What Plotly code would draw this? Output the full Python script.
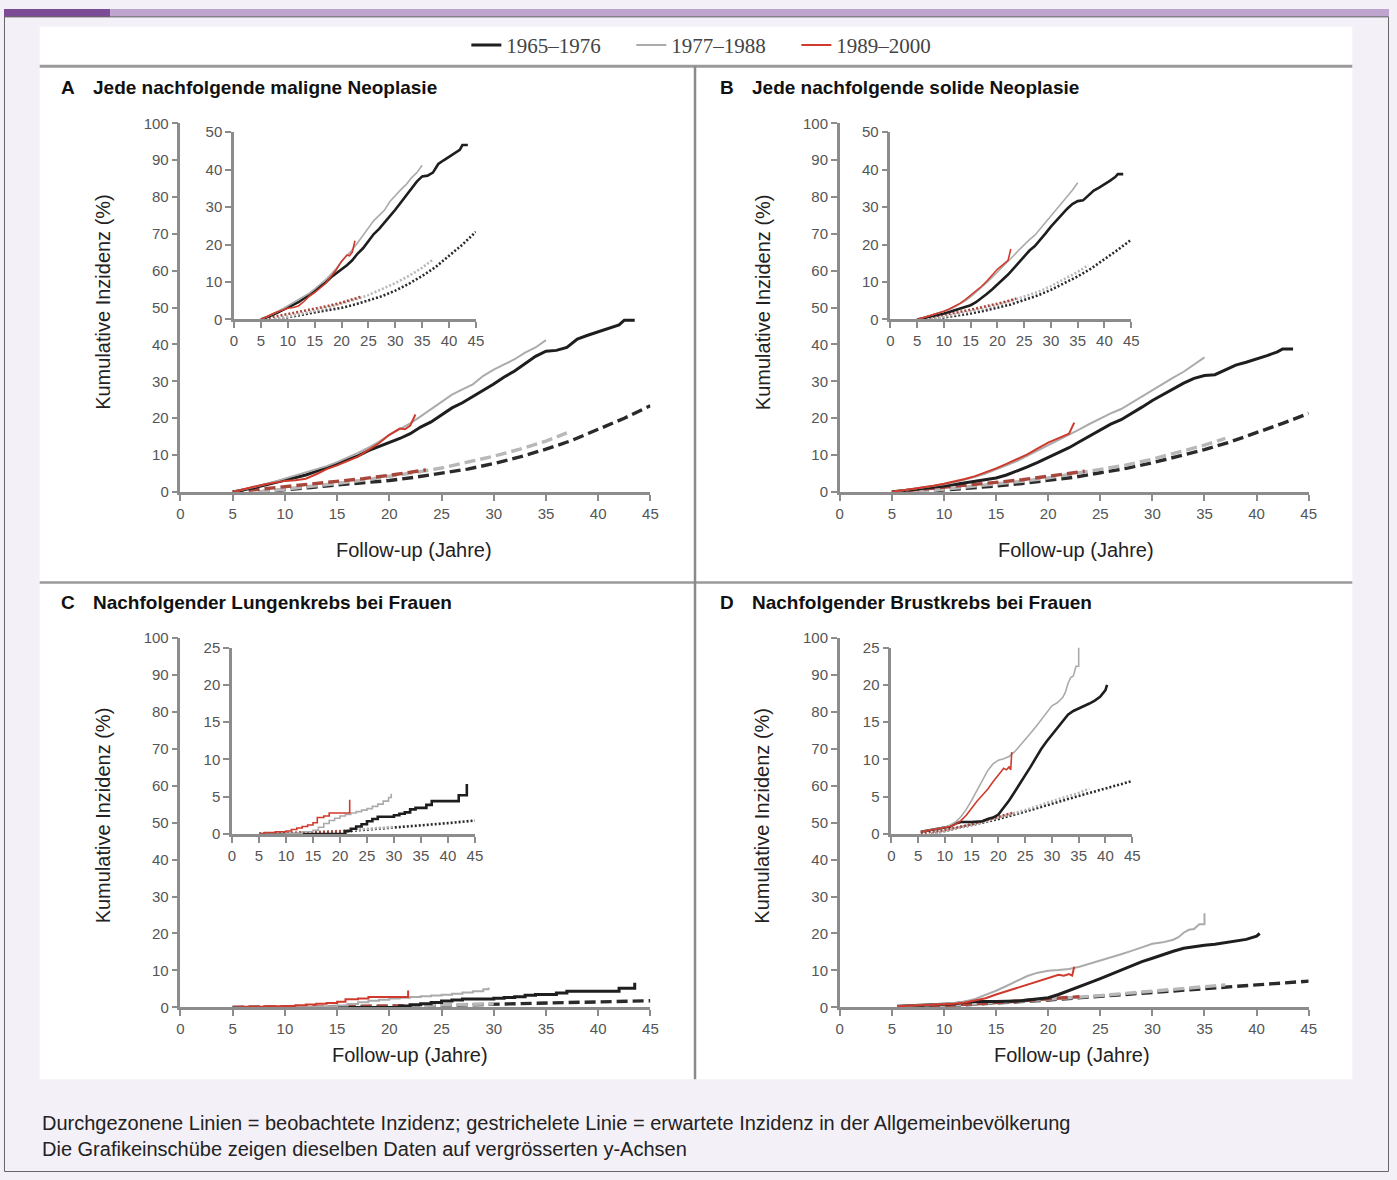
import plotly.graph_objects as go

W, H = 1397, 1180

# ---------------- data ----------------
SERIES = ["1965–1976", "1977–1988", "1989–2000"]
X_TICKS = [0, 5, 10, 15, 20, 25, 30, 35, 40, 45]

# Panel A – any subsequent malignant neoplasm
A_obs65_x = [5, 6, 7, 8, 9, 10, 11, 12, 13, 14, 15, 16, 17, 18, 19, 20, 21, 22, 23, 24, 25, 26, 27, 28, 29, 30,
             31, 32, 33, 34, 35, 36, 37, 38, 39, 40, 41, 42, 42.5, 43.5]
A_obs65_y = [0, 0.5, 1.1, 1.8, 2.5, 3.1, 3.8, 4.6, 5.6, 6.6, 7.6, 8.6, 9.8, 11.2, 12.3, 13.2, 14.5, 15.8, 17.6, 19.0,
             20.8, 22.8, 24.2, 25.8, 27.6, 29.3, 31.2, 32.8, 34.8, 36.8, 38.2, 38.4, 39.2, 41.5, 42.5, 43.5, 44.5,
             45.3, 46.6, 46.6]
A_obs77_x = [5, 6, 7, 8, 9, 10, 11, 12, 13, 14, 15, 16, 17, 18, 19, 20, 21, 22, 23, 24, 25, 26, 27, 28, 29, 30,
             31, 32, 33, 34, 35]
A_obs77_y = [0, 0.6, 1.3, 2.0, 2.8, 3.6, 4.4, 5.2, 6.1, 7.0, 8.1, 9.3, 10.6, 12.0, 13.6, 15.5, 17.0, 18.6, 20.5,
             22.5, 24.4, 26.4, 27.8, 29.2, 31.5, 33.2, 34.6, 36.0, 37.8, 39.2, 41.2]
A_obs89_x = [5, 6, 7, 8, 9, 10, 11, 12, 13, 14, 15, 16, 17, 18, 19, 20, 21, 21.5, 22, 22.5]
A_obs89_y = [0, 0.8, 1.4, 2.0, 2.5, 3.0, 3.2, 3.6, 4.8, 6.2, 7.2, 8.3, 9.6, 11.4, 13.2, 15.5, 17.2, 17.0, 18.0, 21.0]
A_exp65_x = [7.5, 10, 12.5, 15, 17.5, 20, 22.5, 25, 27.5, 30, 32.5, 35, 37.5, 40, 42.5, 45]
A_exp65_y = [0, 0.5, 1.2, 1.9, 2.5, 3.1, 4.0, 5.0, 6.2, 7.7, 9.5, 11.6, 14.0, 17.0, 20.0, 23.4]
A_exp77_x = [7.5, 10, 12.5, 15, 17.5, 20, 22.5, 25, 27.5, 30, 32.5, 35, 37]
A_exp77_y = [0, 0.7, 1.5, 2.3, 3.2, 4.2, 5.3, 6.5, 8.0, 9.7, 11.6, 13.8, 16.0]
A_exp89_x = [5, 7.5, 10, 12.5, 15, 17.5, 20, 22.5, 23.5]
A_exp89_y = [0, 0.7, 1.4, 2.1, 2.8, 3.6, 4.5, 5.5, 6.0]

# Panel B – any subsequent solid neoplasm
B_obs65_x = [5, 6, 7, 8, 9, 10, 11, 12, 13, 14, 15, 16, 17, 18, 19, 20, 21, 22, 23, 24, 25, 26, 27, 28, 29, 30,
             31, 32, 33, 34, 35, 36, 37, 38, 39, 40, 41, 42, 42.5, 43.5]
B_obs65_y = [0, 0.3, 0.6, 0.9, 1.2, 1.6, 2.0, 2.5, 3.0, 3.3, 3.8, 4.6, 5.6, 6.8, 8.0, 9.3, 10.5, 12.0, 13.6, 15.2,
             16.8, 18.4, 19.6, 21.2, 23.0, 24.8, 26.4, 28.0, 29.5, 30.8, 31.6, 31.8, 33.2, 34.4, 35.2, 36.0, 37.0,
             38.0, 38.8, 38.8]
B_obs77_x = [5, 6, 7, 8, 9, 10, 11, 12, 13, 14, 15, 16, 17, 18, 19, 20, 21, 22, 23, 24, 25, 26, 27, 28, 29, 30,
             31, 32, 33, 34, 35]
B_obs77_y = [0, 0.4, 0.8, 1.2, 1.6, 2.1, 2.6, 3.3, 4.1, 5.0, 6.0, 7.2, 8.4, 9.8, 11.2, 12.6, 14.0, 15.5, 17.0,
             18.5, 20.0, 21.3, 22.5, 24.2, 26.0, 27.8, 29.5, 31.0, 32.6, 34.5, 36.5]
B_obs89_x = [5, 6, 7, 8, 9, 10, 11, 12, 13, 14, 15, 16, 17, 18, 19, 20, 21, 22, 22.5]
B_obs89_y = [0, 0.4, 0.9, 1.3, 1.7, 2.2, 2.8, 3.5, 4.3, 5.3, 6.4, 7.6, 8.8, 10.2, 11.8, 13.4, 14.6, 15.8, 18.8]
B_exp65_x = [7.5, 10, 12.5, 15, 17.5, 20, 22.5, 25, 27.5, 30, 32.5, 35, 37.5, 40, 42.5, 45]
B_exp65_y = [0, 0.5, 1.0, 1.6, 2.3, 3.1, 4.0, 5.2, 6.4, 7.9, 9.6, 11.5, 13.6, 16.0, 18.6, 21.3]
B_exp77_x = [7.5, 10, 12.5, 15, 17.5, 20, 22.5, 25, 27.5, 30, 32.5, 35, 37]
B_exp77_y = [0, 0.7, 1.4, 2.1, 2.9, 3.8, 4.9, 6.0, 7.3, 8.9, 10.7, 12.7, 14.5]
B_exp89_x = [5, 7.5, 10, 12.5, 15, 17.5, 20, 22.5, 23.5]
B_exp89_y = [0, 0.6, 1.2, 1.9, 2.6, 3.3, 4.2, 5.1, 5.6]

# Panel C – subsequent lung cancer in women (step curves)
C_obs65_x = [5, 20.5, 21, 22, 23, 24, 25, 26, 27, 28, 30, 31, 32, 33, 34, 35, 36, 37, 41, 42, 43.2, 43.5]
C_obs65_y = [0, 0, 0.4, 0.7, 1.0, 1.3, 1.7, 2.0, 2.3, 2.3, 2.5, 2.7, 2.9, 3.3, 3.5, 3.5, 3.9, 4.4, 4.4, 5.2, 5.2, 6.7]
C_obs77_x = [5, 10, 13, 15, 16, 17, 18, 19, 20, 21, 22, 23, 24, 25, 26, 27, 28, 29, 29.5]
C_obs77_y = [0, 0.1, 0.3, 0.5, 0.9, 1.4, 1.8, 2.1, 2.4, 2.6, 2.8, 3.0, 3.2, 3.4, 3.7, 4.0, 4.4, 4.9, 5.4]
C_obs89_x = [5, 6, 8, 10, 11, 12, 13, 14, 15, 15.8, 17, 18, 21.8]
C_obs89_y = [0, 0.2, 0.3, 0.4, 0.6, 0.8, 1.0, 1.2, 1.5, 2.2, 2.4, 2.8, 4.6]
C_exp65_x = [5, 10, 15, 20, 25, 30, 35, 40, 45]
C_exp65_y = [0, 0.05, 0.15, 0.3, 0.55, 0.85, 1.15, 1.45, 1.8]
C_exp77_x = [5, 10, 15, 20, 25, 30]
C_exp77_y = [0, 0.05, 0.2, 0.4, 0.65, 0.95]
C_exp89_x = [5, 10, 15, 20, 22]
C_exp89_y = [0, 0.1, 0.2, 0.35, 0.4]

# Panel D – subsequent breast cancer in women
D_obs65_x = [5.5, 7, 9, 10, 11, 12, 13, 15, 17, 18, 19, 20, 21, 22, 23, 24, 25, 26, 27, 28, 29, 30, 31, 32, 33,
             34, 35, 36, 37, 38, 39, 40, 40.3]
D_obs65_y = [0.3, 0.5, 0.7, 0.8, 1.0, 1.4, 1.6, 1.6, 1.7, 2.0, 2.2, 2.6, 3.5, 4.5, 5.6, 6.7, 7.8, 9.0, 10.2, 11.4,
             12.4, 13.3, 14.3, 15.2, 16.0, 16.5, 16.8, 17.1, 17.5, 17.9, 18.4, 19.3, 20.0]
D_obs77_x = [5.5, 7, 9, 10, 11, 12, 13, 14, 15, 16, 17, 18, 19, 20, 21, 22, 23, 24, 25, 26, 27, 28, 29, 30, 31,
             32, 32.5, 33, 33.5, 34, 34.5, 35, 35]
D_obs77_y = [0.3, 0.5, 0.7, 0.9, 1.2, 1.6, 2.3, 3.3, 4.5, 5.8, 7.2, 8.5, 9.4, 9.9, 10.1, 10.4, 11.0, 11.8, 12.6,
             13.5, 14.4, 15.3, 16.2, 17.2, 17.6, 18.3, 19.0, 20.2, 21.0, 21.2, 22.5, 22.5, 25.5]
D_obs89_x = [5.5, 7, 9, 10, 11, 12, 13, 14, 15, 16, 17, 18, 19, 20, 21, 21.5, 22, 22.3, 22.5]
D_obs89_y = [0.3, 0.5, 0.7, 0.8, 1.0, 1.3, 1.8, 2.5, 3.5, 4.4, 5.2, 6.0, 7.0, 7.9, 8.8, 8.6, 9.0, 8.6, 11.0]
D_exp65_x = [7.5, 10, 15, 20, 25, 30, 35, 40, 45]
D_exp65_y = [0, 0.4, 1.1, 2.0, 3.0, 4.1, 5.1, 6.1, 7.1]
D_exp77_x = [7.5, 10, 15, 20, 25, 30, 35, 37]
D_exp77_y = [0, 0.4, 1.2, 2.2, 3.2, 4.4, 5.5, 6.1]
D_exp89_x = [5.5, 10, 15, 20, 23]
D_exp89_y = [0.1, 0.5, 1.3, 2.3, 2.9]

PANEL_DATA = {
    "A": dict(obs=[(A_obs65_x, A_obs65_y), (A_obs77_x, A_obs77_y), (A_obs89_x, A_obs89_y)],
              exp=[(A_exp65_x, A_exp65_y), (A_exp77_x, A_exp77_y), (A_exp89_x, A_exp89_y)]),
    "B": dict(obs=[(B_obs65_x, B_obs65_y), (B_obs77_x, B_obs77_y), (B_obs89_x, B_obs89_y)],
              exp=[(B_exp65_x, B_exp65_y), (B_exp77_x, B_exp77_y), (B_exp89_x, B_exp89_y)]),
    "C": dict(obs=[(C_obs65_x, C_obs65_y), (C_obs77_x, C_obs77_y), (C_obs89_x, C_obs89_y)],
              exp=[(C_exp65_x, C_exp65_y), (C_exp77_x, C_exp77_y), (C_exp89_x, C_exp89_y)]),
    "D": dict(obs=[(D_obs65_x, D_obs65_y), (D_obs77_x, D_obs77_y), (D_obs89_x, D_obs89_y)],
              exp=[(D_exp65_x, D_exp65_y), (D_exp77_x, D_exp77_y), (D_exp89_x, D_exp89_y)]),
}
TITLES = {"A": "Jede nachfolgende maligne Neoplasie",
          "B": "Jede nachfolgende solide Neoplasie",
          "C": "Nachfolgender Lungenkrebs bei Frauen",
          "D": "Nachfolgender Brustkrebs bei Frauen"}

# ---------------- layout geometry (page pixels) ----------------
GEOM = {
    "A": dict(mx=(178, 652), my=(490, 116), ix=(232, 476), iy=(315, 125), imax=50, idt=10, shape="linear",
              title=(55, 88, 80), ylab=(100, 297), xlab=(414, 549)),
    "B": dict(mx=(843, 1316), my=(490, 116), ix=(894, 1137), iy=(315, 125), imax=50, idt=10, shape="linear",
              title=(720, 752, 80), ylab=(765, 297), xlab=(1081, 549)),
    "C": dict(mx=(178, 652), my=(1013, 638), ix=(230, 475), iy=(837, 648), imax=25, idt=5, shape="hv",
              title=(55, 88, 602), ylab=(100, 818), xlab=(410, 1061)),
    "D": dict(mx=(843, 1316), my=(1013, 638), ix=(895, 1138), iy=(837, 648), imax=25, idt=5, shape="linear",
              title=(720, 752, 602), ylab=(765, 818), xlab=(1077, 1061)),
}

OBS_COLORS = ["#1e1e1e", "#ababab", "#cf3a2c"]
OBS_WIDTH = [3.0, 2.0, 2.0]
EXP_COLORS = ["#2a2a2a", "#b8b8b8", "#a8463c"]

TICK_FONT = dict(family="Liberation Sans Narrow, Liberation Sans, Arial", size=15, color="#555555")
TEXT_FONT = "Liberation Sans, Arial, sans-serif"


def fx(p):
    return p / W


def fy(p):
    return 1 - p / H


fig = go.Figure()
layout = {}

axis_common = dict(showline=True, linecolor="#8c8c8c", linewidth=2.5, ticks="outside", ticklen=6,
                   tickwidth=2, tickcolor="#8c8c8c", showgrid=False, zeroline=False,
                   tickfont=TICK_FONT, fixedrange=True)

annotations = []
for i, key in enumerate(["A", "B", "C", "D"]):
    g = GEOM[key]
    d = PANEL_DATA[key]
    for j, inset in enumerate([False, True]):
        n = 2 * i + j + 1
        xa = "xaxis" if n == 1 else f"xaxis{n}"
        ya = "yaxis" if n == 1 else f"yaxis{n}"
        xr = "x" if n == 1 else f"x{n}"
        yr = "y" if n == 1 else f"y{n}"
        px_x = g["ix"] if inset else g["mx"]
        px_y = g["iy"] if inset else g["my"]
        ymax = g["imax"] if inset else 100
        ydt = g["idt"] if inset else 10
        layout[xa] = dict(axis_common, domain=[fx(px_x[0]), fx(px_x[1])], range=[0, 45],
                          tickvals=X_TICKS, anchor=yr)
        layout[ya] = dict(axis_common, domain=[fy(px_y[0]), fy(px_y[1])], range=[0, ymax],
                          dtick=ydt, tick0=0, anchor=xr)
        # expected incidence (dashed in main, dotted in inset)
        for k in [0, 1, 2]:
            ex, ey = d["exp"][k]
            fig.add_trace(go.Scatter(
                x=ex, y=ey, xaxis=xr, yaxis=yr, mode="lines", showlegend=False, hoverinfo="skip",
                line=dict(color=EXP_COLORS[k], width=2.6 if inset else 3.4,
                          dash="2px,2px" if inset else "11px,5px")))
        # observed incidence
        for k in [0, 1, 2]:
            ox, oy = d["obs"][k]
            fig.add_trace(go.Scatter(
                x=ox, y=oy, xaxis=xr, yaxis=yr, mode="lines", name=SERIES[k],
                showlegend=(n == 1), legendrank=k + 1,
                line=dict(color=OBS_COLORS[k], width=OBS_WIDTH[k] - (0.4 if inset else 0),
                          shape=g["shape"])))

    lx, tx, ty = g["title"]
    annotations.append(dict(text=f"<b>{key}</b>", x=fx(lx), y=fy(ty), xref="paper", yref="paper",
                            xanchor="left", yanchor="middle", showarrow=False,
                            font=dict(family=TEXT_FONT, size=19, color="#111111")))
    annotations.append(dict(text=f"<b>{TITLES[key]}</b>", x=fx(tx), y=fy(ty), xref="paper", yref="paper",
                            xanchor="left", yanchor="middle", showarrow=False,
                            font=dict(family=TEXT_FONT, size=19, color="#111111")))
    annotations.append(dict(text="Kumulative Inzidenz (%)", x=fx(g["ylab"][0]), y=fy(g["ylab"][1]),
                            xref="paper", yref="paper", textangle=-90, showarrow=False,
                            xanchor="center", yanchor="middle",
                            font=dict(family=TEXT_FONT, size=20, color="#222222")))
    annotations.append(dict(text="Follow-up (Jahre)", x=fx(g["xlab"][0]), y=fy(g["xlab"][1]),
                            xref="paper", yref="paper", showarrow=False,
                            xanchor="center", yanchor="middle",
                            font=dict(family=TEXT_FONT, size=20, color="#222222")))

annotations.append(dict(text="Durchgezonene Linien = beobachtete Inzidenz; gestrichelete Linie = erwartete "
                             "Inzidenz in der Allgemeinbevölkerung",
                        x=fx(36), y=fy(1130), xref="paper", yref="paper", showarrow=False,
                        xanchor="left", yanchor="middle",
                        font=dict(family=TEXT_FONT, size=20, color="#222222")))
annotations.append(dict(text="Die Grafikeinschübe zeigen dieselben Daten auf vergrösserten y-Achsen",
                        x=fx(36), y=fy(1157), xref="paper", yref="paper", showarrow=False,
                        xanchor="left", yanchor="middle",
                        font=dict(family=TEXT_FONT, size=20, color="#222222")))


def rect(x0, y0, x1, y1, **kw):
    return dict(type="rect", xref="paper", yref="paper", x0=fx(x0), x1=fx(x1), y0=fy(y0), y1=fy(y1),
                layer="below", **kw)


def line(x0, y0, x1, y1, color, width):
    return dict(type="line", xref="paper", yref="paper", x0=fx(x0), x1=fx(x1), y0=fy(y0), y1=fy(y1),
                line=dict(color=color, width=width), layer="below")


shapes = [
    rect(0, 0, 107, 8, fillcolor="#7c4b95", line=dict(width=0)),
    rect(107, 0, W, 8, fillcolor="#bea4cf", line=dict(width=0)),
    rect(0.5, 8, W - 0.5, H - 0.5, fillcolor="rgba(0,0,0,0)", line=dict(color="#666666", width=1)),
    rect(36, 18, 1360, 1086, fillcolor="#ffffff", line=dict(width=0)),
    line(36, 58, 1360, 58, "#9a9a9a", 3),
    line(36, 582, 1360, 582, "#9a9a9a", 2.5),
    line(697, 58, 697, 1086, "#8a8a8a", 2.5),
]

layout.update(dict(
    width=W, height=H, margin=dict(l=0, r=0, t=0, b=0),
    paper_bgcolor="#f3f0f7", plot_bgcolor="rgba(0,0,0,0)",
    showlegend=True,
    legend=dict(orientation="h", x=fx(716), y=fy(37), xanchor="center", yanchor="middle",
                bgcolor="rgba(0,0,0,0)", font=dict(family="Liberation Serif, Times New Roman, serif",
                                                    size=21, color="#444444"),
                entrywidth=120, entrywidthmode="pixels", tracegroupgap=0),
    annotations=annotations, shapes=shapes,
))
fig.update_layout(**layout)
fig.write_html("out.html", config={"displayModeBar": False},
               post_script="document.body.style.margin='0px';document.body.style.overflow='hidden';")
